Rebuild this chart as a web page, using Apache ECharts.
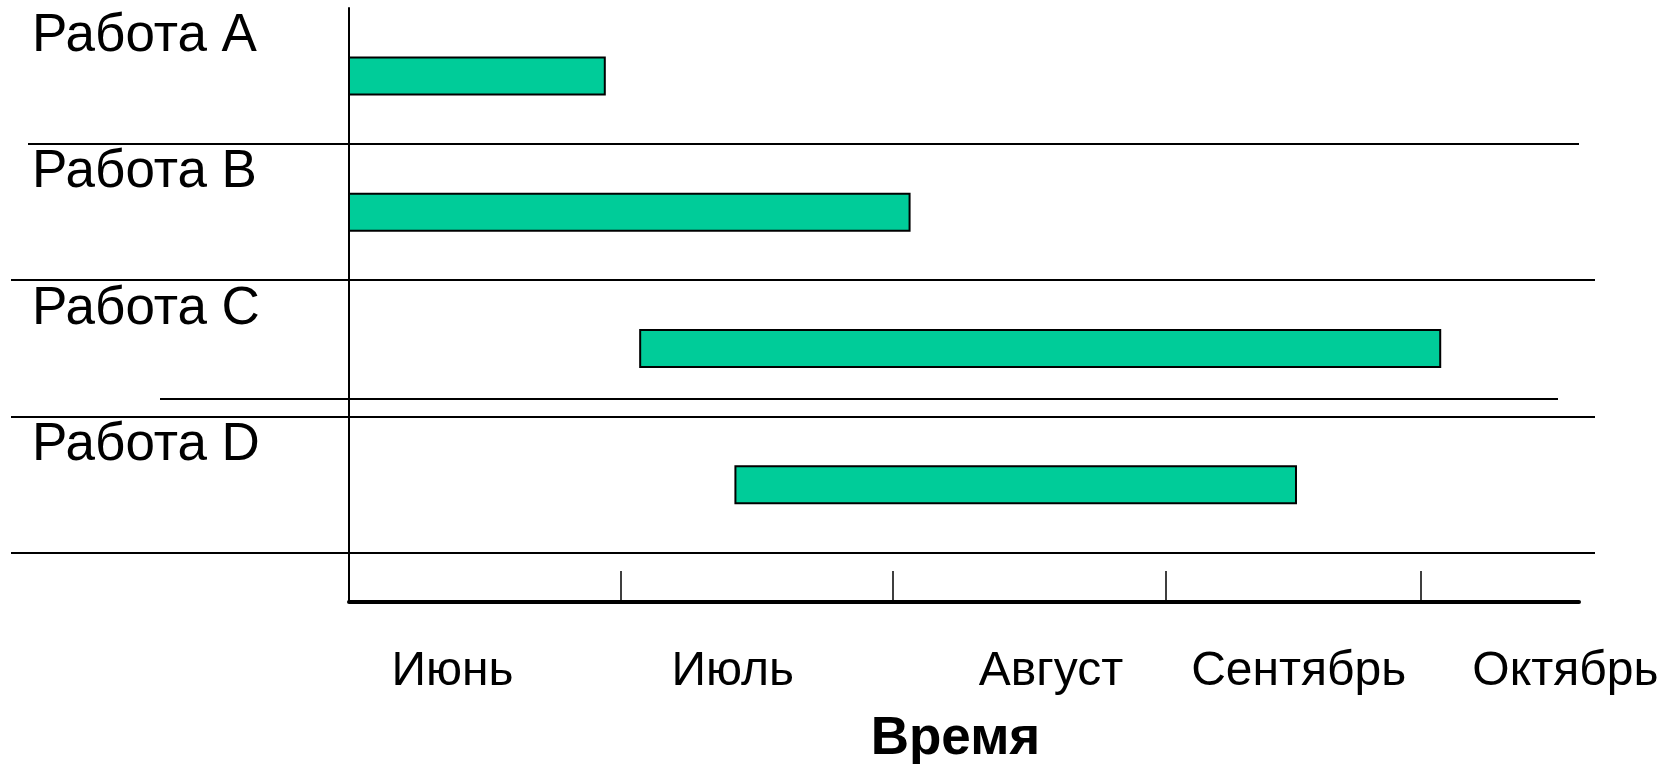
<!DOCTYPE html>
<html><head><meta charset="utf-8">
<script src="https://cdn.jsdelivr.net/npm/echarts@6/dist/echarts.min.js"></script>
<style>html,body{margin:0;padding:0;background:#fff}#c{width:1673px;height:764px}</style>
</head><body><div id="c"></div>
<script>
// ---- data ----
const tasks = ['Работа A', 'Работа B', 'Работа C', 'Работа D'];
const startMonths = [0, 0, 1.07, 1.42];     // months since start of June
const endMonths = [0.94, 2.06, 4.01, 3.48];
const monthLabels = ['Июнь', 'Июль', 'Август', 'Сентябрь', 'Октябрь'];
const monthLabelPos = [0.38, 1.41, 2.58, 3.49, 4.47];
const monthTickPos = [1, 2, 3, 3.94];
const axisTitle = 'Время';

const FONT = 'Liberation Sans, Arial, sans-serif';
const chart = echarts.init(document.getElementById('c'), null, {renderer: 'canvas'});

chart.setOption({
  animation: false,
  backgroundColor: '#fff',
  grid: {left: 349, right: 94, top: 8, bottom: 162, containLabel: false, outerBoundsMode: 'none'},
  xAxis: {
    type: 'value', min: 0, max: 4.52, position: 'bottom',
    axisLine: {show: true, onZero: false, lineStyle: {color: '#000', width: 4}},
    axisTick: {show: true, inside: true, length: 31, customValues: monthTickPos,
      lineStyle: {color: '#000', width: 1.5}},
    splitLine: {show: false},
    axisLabel: {
      customValues: monthLabelPos, margin: 46, fontSize: 48, color: '#000', fontFamily: FONT,
      formatter: function (v) {
        let best = 0, d = 1e9;
        monthLabelPos.forEach((p, i) => { if (Math.abs(p - v) < d) { d = Math.abs(p - v); best = i; } });
        return monthLabels[best];
      }
    },
    name: axisTitle, nameLocation: 'middle', nameGap: 111,
    nameTextStyle: {fontSize: 53, fontWeight: 'bold', color: '#000', fontFamily: FONT, padding: [0, 17, 0, 0]}
  },
  yAxis: {
    type: 'value', inverse: true, min: 0, max: 4.36, interval: 1,
    axisLine: {show: true, onZero: false, lineStyle: {color: '#000', width: 2}},
    axisTick: {show: false},
    splitLine: {show: false},
    axisLabel: {
      align: 'left', verticalAlign: 'top', margin: 317, fontSize: 53, color: '#000', fontFamily: FONT,
      padding: [2, 0, 0, 0],
      formatter: function (v) {
        return (Number.isInteger(v) && v >= 0 && v < tasks.length) ? tasks[v] : '';
      }
    }
  },
  series: [{
    type: 'custom',
    encode: {x: [1, 2], y: 0},
    data: tasks.map((t, i) => [i, startMonths[i], endMonths[i]]),
    renderItem: function (params, api) {
      const row = api.value(0);
      const p0 = api.coord([api.value(1), row + 0.5]);
      const p1 = api.coord([api.value(2), row + 0.5]);
      const h = 37;
      return {
        type: 'rect',
        shape: {x: p0[0], y: p0[1] - h / 2, width: p1[0] - p0[0], height: h},
        style: {fill: '#00CC99', stroke: '#000', lineWidth: 2}
      };
    }
  }]
});

// row separators, placed through the y scale
const sepRows = [1, 2, 3, 4, 2.87];
const sepX = [[28, 1579], [11, 1595], [11, 1595], [11, 1595], [160, 1558]];
const g = sepRows.map((r, k) => {
  const y = Math.round(chart.convertToPixel({xAxisIndex: 0, yAxisIndex: 0}, [0, r])[1]);
  return {type: 'line', shape: {x1: sepX[k][0], y1: y, x2: sepX[k][1], y2: y},
    style: {stroke: '#000', lineWidth: 2}, z: 0};
});
chart.setOption({graphic: g});
</script></body></html>
